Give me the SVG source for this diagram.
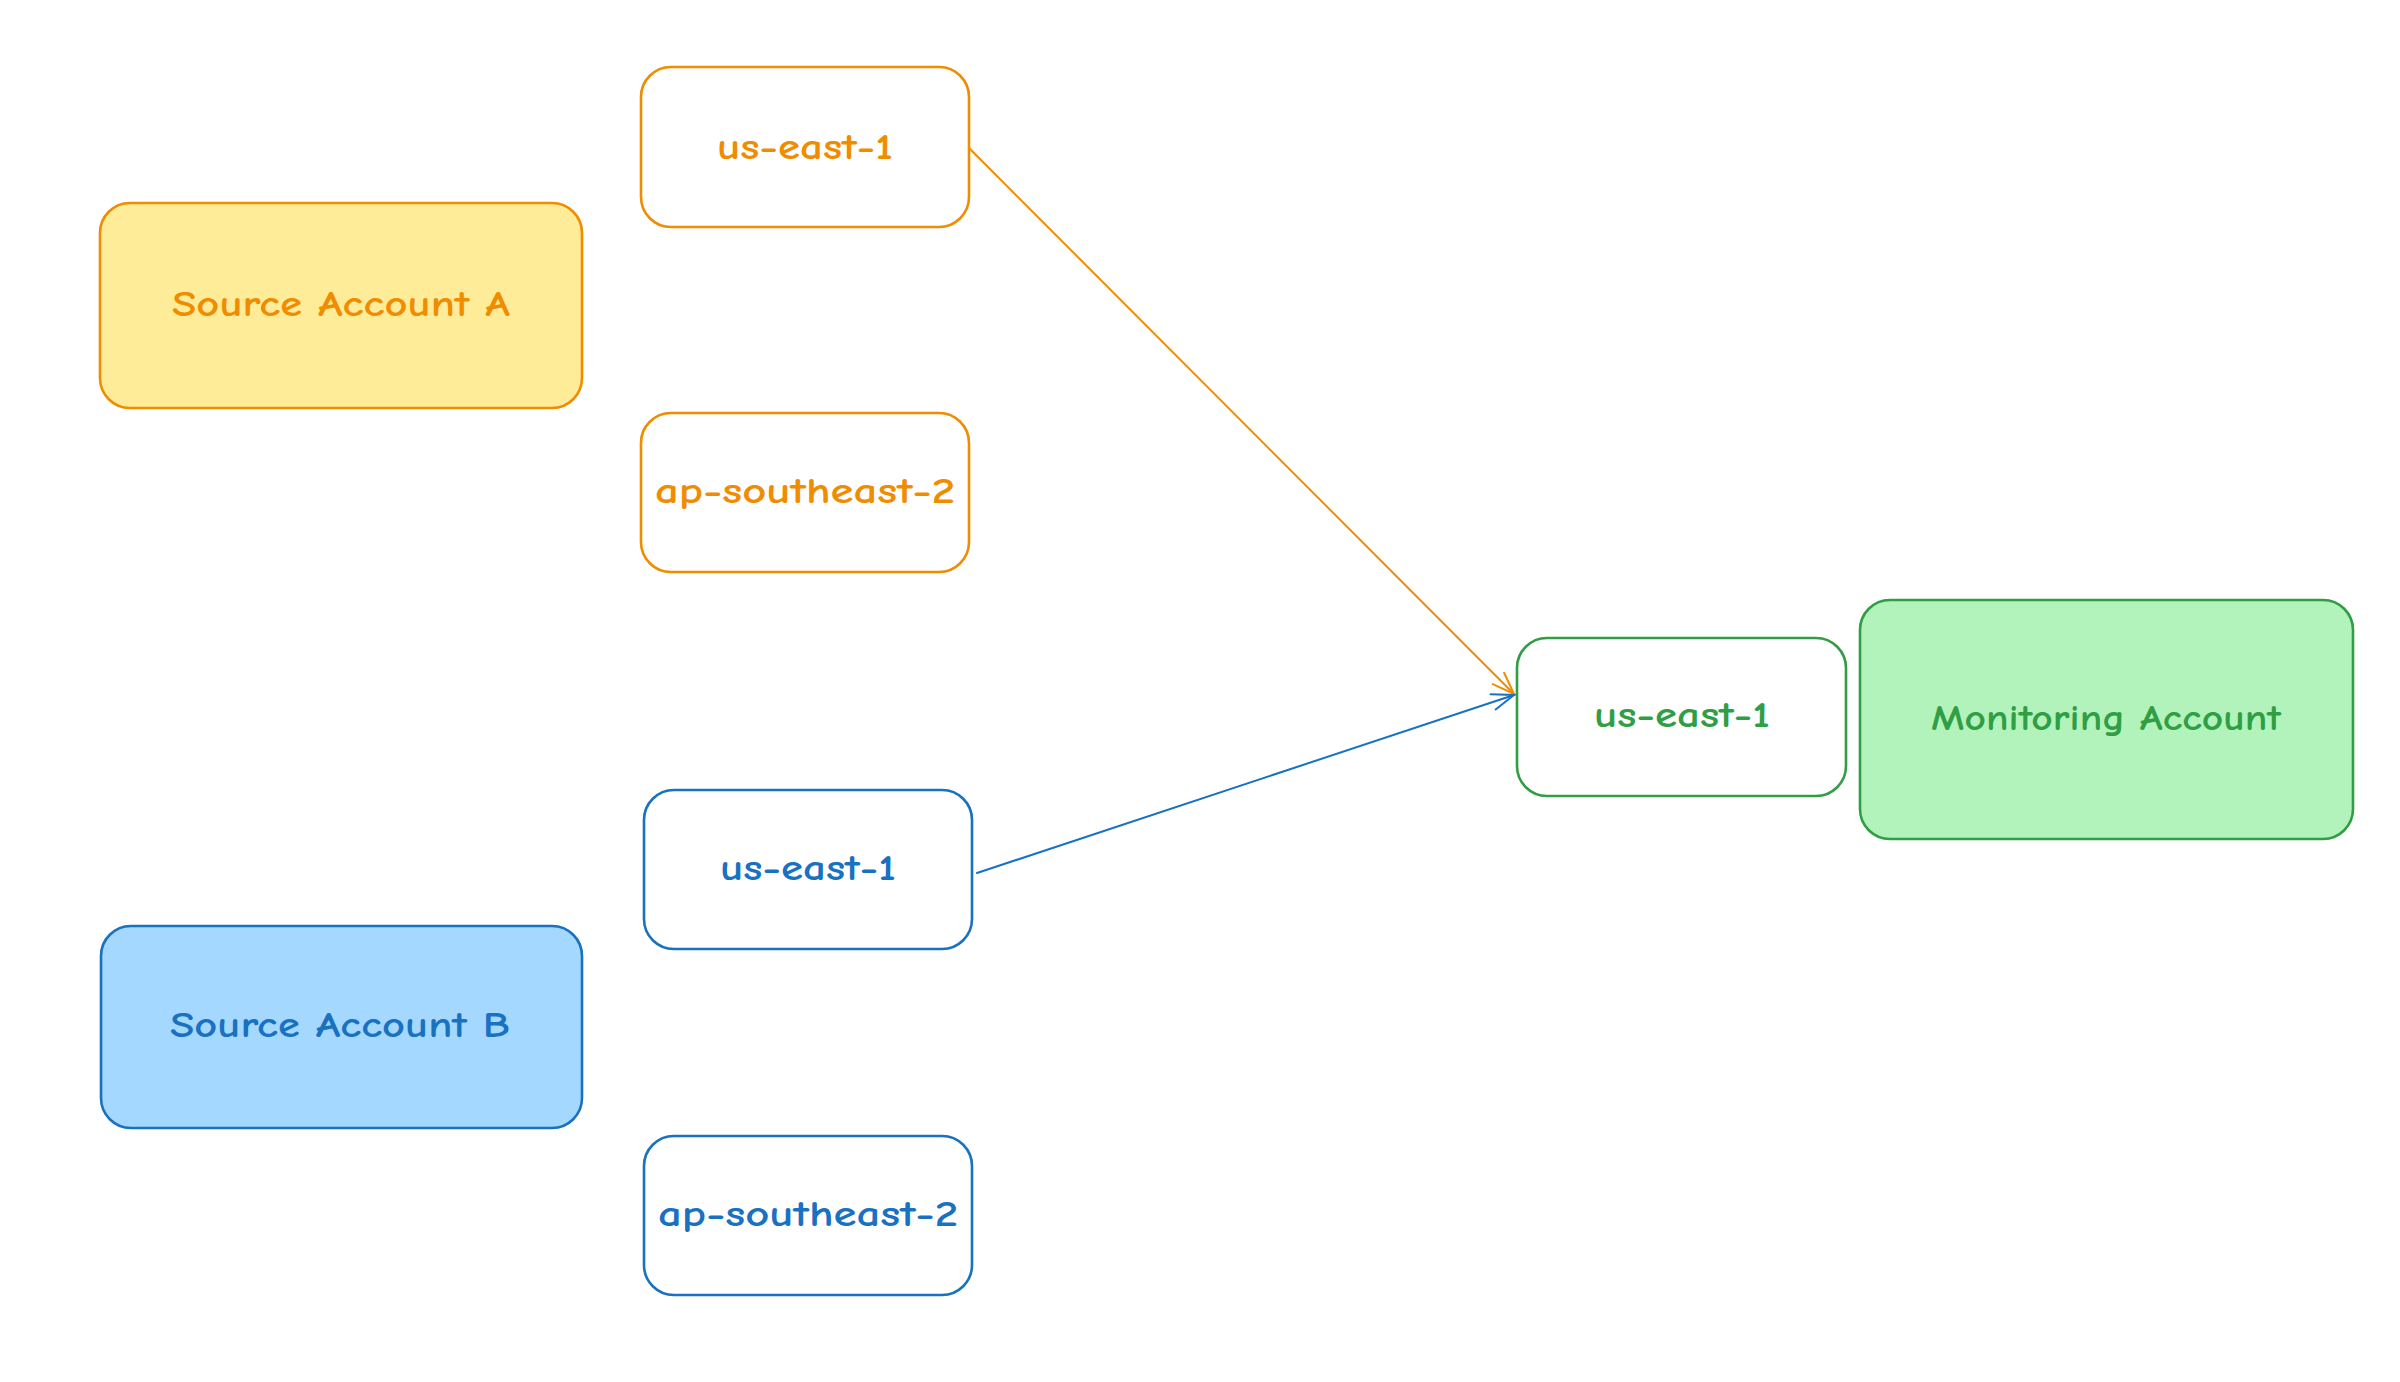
<svg xmlns="http://www.w3.org/2000/svg" width="2400" height="1382" viewBox="0 0 2400 1382">
<style>
.box{stroke-width:2.6;}
.o{stroke:#f08c00;}
.b{stroke:#1971c2;}
.g{stroke:#2f9e44;}
.t{font-family:"Comic Neue","Liberation Sans","Noto Sans",sans-serif;font-size:37px;font-weight:bold;text-anchor:middle;}
.to{fill:#f08c00;}
.tb{fill:#1971c2;}
.tg{fill:#2f9e44;}
.edge{fill:none;stroke-width:2;stroke-linecap:round;}
</style>
<defs>
<marker id="ao" markerWidth="30" markerHeight="30" refX="24" refY="10" orient="auto" markerUnits="userSpaceOnUse" viewBox="0 0 30 20">
<path d="M2,2 L24,10 L2,18" fill="none" stroke="#f08c00" stroke-width="2" stroke-linecap="round"/>
</marker>
<marker id="ab" markerWidth="30" markerHeight="30" refX="24" refY="10" orient="auto" markerUnits="userSpaceOnUse" viewBox="0 0 30 20">
<path d="M2,2 L24,10 L2,18" fill="none" stroke="#1971c2" stroke-width="2" stroke-linecap="round"/>
</marker>
</defs>
<rect width="2400" height="1382" fill="#ffffff"/>
<g id="connectors">
<path class="edge o" d="M964,143 L1514,694" marker-end="url(#ao)"/>
<path class="edge b" d="M977,873 L1514,695" marker-end="url(#ab)"/>
</g>
<g id="source-a">
<rect class="box o" x="100" y="203" width="482" height="205" rx="30" fill="#ffec99"/>
<text class="t to" x="341" y="316" textLength="338" lengthAdjust="spacingAndGlyphs">Source Account A</text>
</g>
<g id="a-us-east-1">
<rect class="box o" x="641" y="67" width="328" height="160" rx="30" fill="#ffffff"/>
<text class="t to" x="805" y="159" textLength="176" lengthAdjust="spacingAndGlyphs">us-east-1</text>
</g>
<g id="a-ap-southeast-2">
<rect class="box o" x="641" y="413" width="328" height="159" rx="30" fill="#ffffff"/>
<text class="t to" x="805" y="503" textLength="300" lengthAdjust="spacingAndGlyphs">ap-southeast-2</text>
</g>
<g id="source-b">
<rect class="box b" x="101" y="926" width="481" height="202" rx="30" fill="#a5d8ff"/>
<text class="t tb" x="340" y="1037" textLength="340" lengthAdjust="spacingAndGlyphs">Source Account B</text>
</g>
<g id="b-us-east-1">
<rect class="box b" x="644" y="790" width="328" height="159" rx="30" fill="#ffffff"/>
<text class="t tb" x="808" y="880" textLength="176" lengthAdjust="spacingAndGlyphs">us-east-1</text>
</g>
<g id="b-ap-southeast-2">
<rect class="box b" x="644" y="1136" width="328" height="159" rx="30" fill="#ffffff"/>
<text class="t tb" x="808" y="1226" textLength="300" lengthAdjust="spacingAndGlyphs">ap-southeast-2</text>
</g>
<g id="m-us-east-1">
<rect class="box g" x="1517" y="638" width="329" height="158" rx="30" fill="#ffffff"/>
<text class="t tg" x="1682" y="727" textLength="176" lengthAdjust="spacingAndGlyphs">us-east-1</text>
</g>
<g id="monitoring">
<rect class="box g" x="1860" y="600" width="493" height="239" rx="30" fill="#b2f2bb"/>
<text class="t tg" x="2106" y="730" textLength="350" lengthAdjust="spacingAndGlyphs">Monitoring Account</text>
</g>
</svg>
